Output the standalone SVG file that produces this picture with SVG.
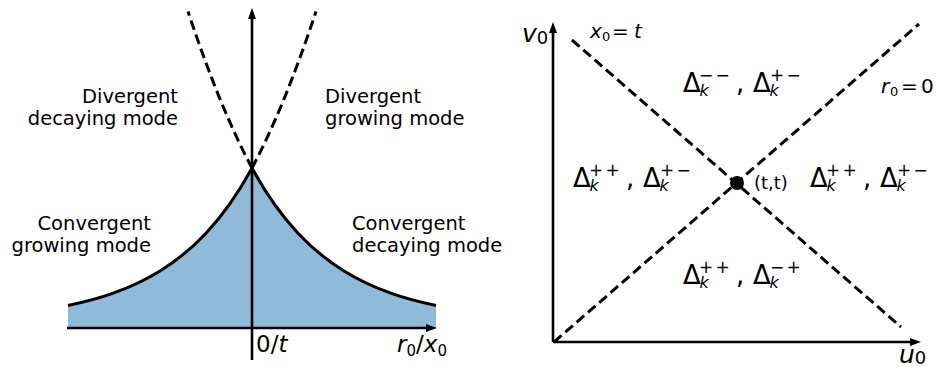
<svg xmlns="http://www.w3.org/2000/svg" width="938" height="367" viewBox="0 0 938 367">
<style>
text{font-family:"DejaVu Sans","Liberation Sans",sans-serif;fill:#000}
.t{font-size:19.5px}
.i{font-style:italic}
.ax{stroke:#000;stroke-width:2.6;fill:none}
.cv{stroke:#000;stroke-width:3;fill:none}
.ds{stroke:#000;stroke-width:3;fill:none;stroke-dasharray:10,5}
.dl{font-size:26px}
.k{font-size:16px;font-style:italic}
.s{font-size:17px}
</style>
<defs>
<marker id="arr" viewBox="0 -5 12 10" refX="0" refY="0" markerWidth="12" markerHeight="10" markerUnits="userSpaceOnUse" orient="auto">
<path d="M0,-4 L11,0 L0,4 Z" fill="#000"/>
</marker>
</defs>

<g id="left-panel">
<path id="fill-region" fill="#8fbad8" stroke="none" d="M68,328 L68,305.5 C83.33,302.3 98.67,298.4 114,292.9 C129.33,287.4 144.67,280.5 160,271 C175.33,261.5 190.67,249.5 206,233.2 C221.33,216.9 236.67,196.2 252,168 C267.33,196.2 282.67,216.9 298,233.2 C313.33,249.5 328.67,261.5 344,271 C359.33,280.5 374.67,287.4 390,292.9 C405.33,298.4 420.67,302.3 436,305.5 L436,328 Z"/>
<path class="cv" d="M68,305.5 C83.33,302.3 98.67,298.4 114,292.9 C129.33,287.4 144.67,280.5 160,271 C175.33,261.5 190.67,249.5 206,233.2 C221.33,216.9 236.67,196.2 252,168 C267.33,196.2 282.67,216.9 298,233.2 C313.33,249.5 328.67,261.5 344,271 C359.33,280.5 374.67,287.4 390,292.9 C405.33,298.4 420.67,302.3 436,305.5"/>
<path class="ds" d="M252,168 Q220,108.2 188,11.5"/>
<path class="ds" d="M252,168 Q284,108.2 316,11.5"/>
<line class="ax" x1="67" y1="328" x2="426" y2="328" marker-end="url(#arr)"/>
<line class="ax" x1="252" y1="360" x2="252" y2="19" marker-end="url(#arr)"/>
<text class="t" x="178" y="103" text-anchor="end">Divergent</text>
<text class="t" x="178" y="124.5" text-anchor="end">decaying mode</text>
<text class="t" x="325" y="103">Divergent</text>
<text class="t" x="325" y="124.5">growing mode</text>
<text class="t" x="151" y="230" text-anchor="end">Convergent</text>
<text class="t" x="151" y="252" text-anchor="end">growing mode</text>
<text class="t" x="352" y="230">Convergent</text>
<text class="t" x="352" y="252">decaying mode</text>
<text x="256" y="352" font-size="23">0/<tspan class="i">t</tspan></text>
<text x="397" y="352" font-size="23"><tspan class="i">r</tspan><tspan font-size="15" dy="4">0</tspan><tspan dy="-4">/</tspan><tspan class="i">x</tspan><tspan font-size="15" dy="4">0</tspan></text>
</g>

<g id="right-panel">
<line class="ax" x1="553" y1="342" x2="553" y2="33" marker-end="url(#arr)"/>
<line class="ax" x1="553" y1="342" x2="910" y2="342" marker-end="url(#arr)"/>
<line class="ds" x1="554" y1="342" x2="919" y2="24"/>
<line class="ds" x1="572" y1="40" x2="901" y2="327"/>
<circle cx="737" cy="183" r="7" fill="#000"/>
<text x="522" y="42" font-size="25"><tspan class="i">v</tspan><tspan font-size="18" dy="2">0</tspan></text>
<text x="899" y="363" font-size="25"><tspan class="i">u</tspan><tspan font-size="18" dy="1">0</tspan></text>
<text font-size="20"><tspan class="i" x="590" y="38">x</tspan><tspan font-size="13" x="602" y="41">0</tspan><tspan x="612" y="38">=</tspan><tspan class="i" x="634" y="38">t</tspan></text>
<text font-size="20"><tspan class="i" x="881" y="93">r</tspan><tspan font-size="13" x="890" y="96">0</tspan><tspan x="901" y="93">=</tspan><tspan x="921" y="93">0</tspan></text>
<text x="754" y="189" font-size="18">(t,t)</text>

<text class="dl"><tspan x="683" y="92">Δ</tspan><tspan class="k" x="699.5" y="95.5">k</tspan><tspan class="s" x="699" y="80.5">−</tspan><tspan class="s" x="715.6" y="80.5">−</tspan><tspan x="736" y="92">,</tspan><tspan x="753" y="92">Δ</tspan><tspan class="k" x="769.5" y="95.5">k</tspan><tspan class="s" x="770" y="80.5">+</tspan><tspan class="s" x="786.6" y="80.5">−</tspan></text>

<text class="dl"><tspan x="573" y="187">Δ</tspan><tspan class="k" x="589.5" y="190.5">k</tspan><tspan class="s" x="589" y="175.5">+</tspan><tspan class="s" x="605.6" y="175.5">+</tspan><tspan x="626" y="187">,</tspan><tspan x="643" y="187">Δ</tspan><tspan class="k" x="659.5" y="190.5">k</tspan><tspan class="s" x="660" y="175.5">+</tspan><tspan class="s" x="676.6" y="175.5">−</tspan></text>

<text class="dl"><tspan x="810" y="187">Δ</tspan><tspan class="k" x="826.5" y="190.5">k</tspan><tspan class="s" x="826" y="175.5">+</tspan><tspan class="s" x="842.6" y="175.5">+</tspan><tspan x="863" y="187">,</tspan><tspan x="880" y="187">Δ</tspan><tspan class="k" x="896.5" y="190.5">k</tspan><tspan class="s" x="897" y="175.5">+</tspan><tspan class="s" x="913.6" y="175.5">−</tspan></text>

<text class="dl"><tspan x="683" y="284">Δ</tspan><tspan class="k" x="699.5" y="287.5">k</tspan><tspan class="s" x="699" y="272.5">+</tspan><tspan class="s" x="715.6" y="272.5">+</tspan><tspan x="736" y="284">,</tspan><tspan x="753" y="284">Δ</tspan><tspan class="k" x="769.5" y="287.5">k</tspan><tspan class="s" x="770" y="272.5">−</tspan><tspan class="s" x="786.6" y="272.5">+</tspan></text>
</g>
</svg>
